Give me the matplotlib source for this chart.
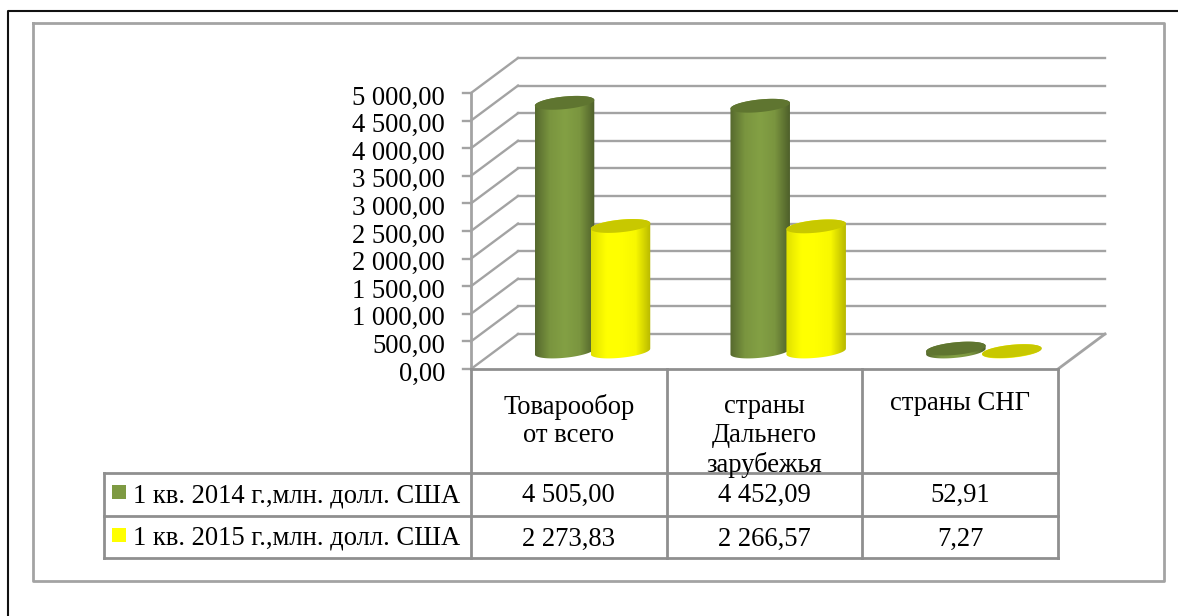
import numpy as np
import matplotlib
matplotlib.use("Agg")
import matplotlib.pyplot as plt
from matplotlib.colors import LinearSegmentedColormap
from matplotlib.patches import Polygon, Rectangle
from matplotlib.lines import Line2D

category_labels = ["Товарообор\nот всего", "страны\nДальнего\nзарубежья", "страны СНГ"]
series_names = ["1 кв. 2014 г.,млн. долл. США", "1 кв. 2015 г.,млн. долл. США"]
values_2014 = [4505.00, 4452.09, 52.91]
values_2015 = [2273.83, 2266.57, 7.27]
labels_2014 = ["4 505,00", "4 452,09", "52,91"]
labels_2015 = ["2 273,83", "2 266,57", "7,27"]
y_ticks = [0, 500, 1000, 1500, 2000, 2500, 3000, 3500, 4000, 4500, 5000]

W, H = 1178, 616
GRID = "#a3a3a3"
EDGE = "#8f8f8f"
FS = 19.2

# pixels of the front plane of the chart box
LEFT, RIGHT, BASE, TOP = 471, 1058, 369, 93
PX_X = (RIGHT - LEFT) / 3
PX_Y = (BASE - TOP) / 5000
DEPTH_X = 47 / PX_X
DEPTH_Y = 35 / PX_Y

plt.rcParams["font.family"] = ["Liberation Serif", "DejaVu Serif"]
fig = plt.figure(figsize=(W / 100, H / 100), dpi=100)
ax = fig.add_axes([LEFT / W, 1 - BASE / H, (RIGHT - LEFT) / W, (BASE - TOP) / H])
ax.set_xlim(0, 3)
ax.set_ylim(0, 5000)
ax.axis("off")


def px(x, y):
    # figure pixels (from top left) to data, for the frames around the chart
    return (x - LEFT) / PX_X, (BASE - y) / PX_Y


def line(x0, y0, x1, y1, color=EDGE, lw=2.0, z=1):
    a = px(x0, y0)
    b = px(x1, y1)
    ax.plot([a[0], b[0]], [a[1], b[1]], color=color, lw=lw, clip_on=False,
            zorder=z, solid_capstyle="projecting")


# grid on the back wall and the side wall
for t in y_ticks:
    ax.plot([DEPTH_X, 3 + DEPTH_X], [t + DEPTH_Y, t + DEPTH_Y], color=GRID, lw=1.7, clip_on=False, zorder=1)
    ax.plot([0, DEPTH_X], [t, t + DEPTH_Y], color=GRID, lw=1.7, clip_on=False, zorder=1)
    ax.plot([-8 / PX_X, 0], [t, t], color=GRID, lw=1.7, clip_on=False, zorder=1)
    ax.text(-26 / PX_X, t - 5 / PX_Y, f"{t:,.2f}".replace(",", " ").replace(".", ","), ha="right", va="center",
            fontsize=FS, clip_on=False)
ax.plot([0, 0], [0, 5000], color=GRID, lw=2, clip_on=False, zorder=1)
ax.plot([3, 3 + DEPTH_X], [0, DEPTH_Y], color=GRID, lw=2, clip_on=False, zorder=1)

green_cm = LinearSegmentedColormap.from_list("g", ["#56692e", "#7a953f", "#83a044", "#7a953f", "#4e5f2a"])
yellow_cm = LinearSegmentedColormap.from_list("y", ["#e0e000", "#ffff00", "#ffff00", "#f8f800", "#b8b800"])


def cylinder(centre, value, cmap, top_color):
    half = 0.152
    t = np.linspace(0, 2 * np.pi, 101)
    cx = centre + DEPTH_X / 2
    cy = DEPTH_Y / 2
    ex = half * np.cos(t)
    ey = (2.85 * np.cos(t) + 6.3 * np.sin(t)) / PX_Y
    low = np.column_stack([cx + ex, cy + ey])
    high = np.column_stack([cx + ex, cy + value + ey])
    # side surface: lower half of the base ellipse up to the rim of the top
    body = Polygon(np.vstack([low[50:], high[:51]]), closed=True, fc="none", ec="none", transform=ax.transData)
    ax.add_patch(body)
    g = np.linspace(0, 1, 128).reshape(1, -1)
    im = ax.imshow(g, cmap=cmap, extent=[cx - half, cx + half, cy - 10 / PX_Y, cy + value + 10 / PX_Y],
                   aspect="auto", zorder=3, clip_on=True)
    im.set_clip_path(body)
    ax.add_patch(Polygon(high, closed=True, fc=top_color, ec="none", zorder=4, clip_on=False))


for i in range(3):
    cylinder(i + 0.358, values_2014[i], green_cm, "#5f7530")
    cylinder(i + 0.644, values_2015[i], yellow_cm, "#c8c800")
ax.set_xlim(0, 3)
ax.set_ylim(0, 5000)

# data table under the chart
ROW0, ROW1, ROW2 = 473, 516, 558
TABLE_L = 104
line(LEFT, BASE, RIGHT, BASE, z=2)
for i in range(4):
    line(LEFT + i * PX_X, BASE, LEFT + i * PX_X, ROW2)
for r in (ROW0, ROW1, ROW2):
    line(TABLE_L, r, RIGHT, r)
line(TABLE_L, ROW0, TABLE_L, ROW2)

label_centres = [421, 436, 404]
for i in range(3):
    xc = i + 0.5
    _, yc = px(0, label_centres[i])
    ax.text(xc, yc, category_labels[i], ha="center", va="center", fontsize=FS, linespacing=1.2, clip_on=False)
    _, y1 = px(0, 495)
    _, y2 = px(0, 539.5)
    ax.text(xc, y1, labels_2014[i], ha="center", va="center", fontsize=FS, clip_on=False)
    ax.text(xc, y2, labels_2015[i], ha="center", va="center", fontsize=FS, clip_on=False)

for name, yy, my, col in zip(series_names, (496, 538), (499, 542), ("#7e9a42", "#ffff00")):
    x0, y0 = px(112, my)
    ax.add_patch(Rectangle((x0, y0), 14 / PX_X, 14 / PX_Y, fc=col, ec="none", clip_on=False))
    tx, ty = px(133, yy)
    ax.text(tx, ty, name, ha="left", va="center", fontsize=FS, clip_on=False)

# outer frames in figure pixels
fig.add_artist(Line2D([33 / W, 1164 / W, 1164 / W, 33 / W, 33 / W],
                      [1 - 23 / H, 1 - 23 / H, 1 - 581 / H, 1 - 581 / H, 1 - 23 / H], color=GRID, lw=2))
fig.add_artist(Line2D([8 / W, 8 / W, 1], [0, 1 - 11 / H, 1 - 11 / H], color="#111111", lw=1.5))

fig.savefig("out.png", dpi=100)
